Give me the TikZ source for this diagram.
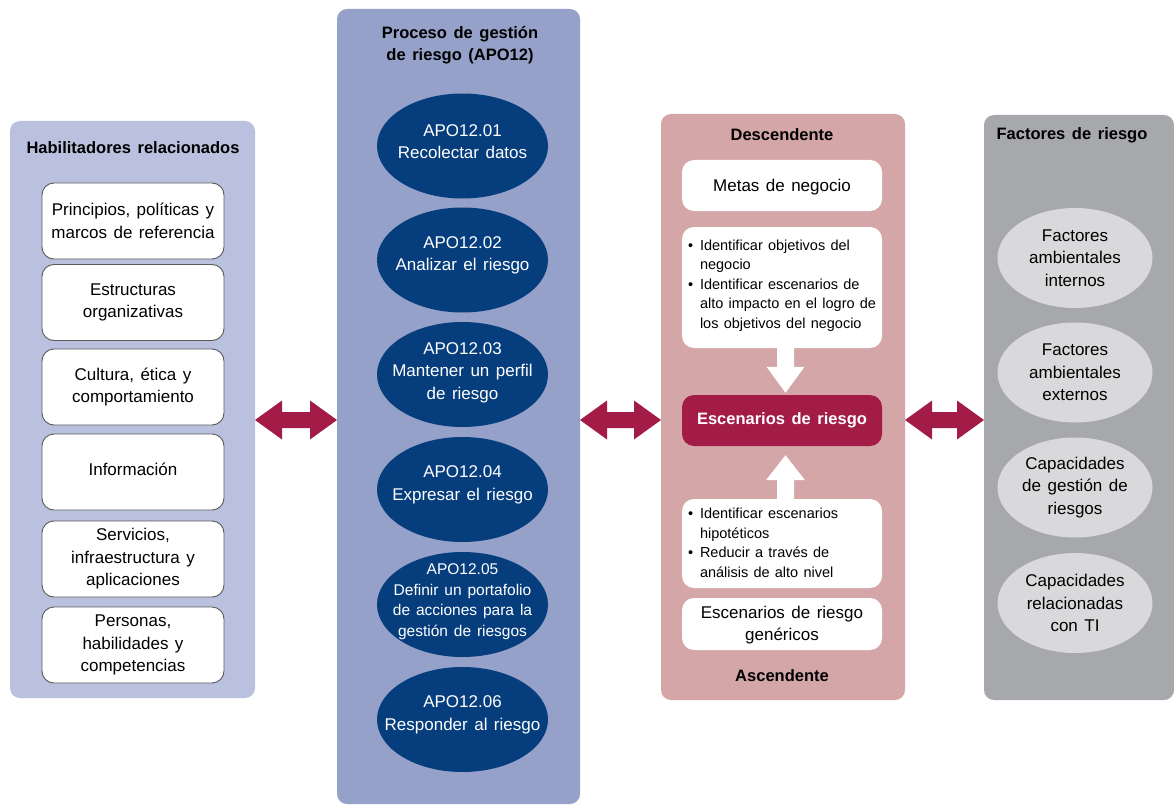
\documentclass[tikz,border=0pt]{standalone}
\usepackage{fontspec}
\setmainfont{Liberation Sans}
\usetikzlibrary{calc,shapes.geometric}
\definecolor{lpanel}{HTML}{B9C1DE}
\definecolor{mpanel}{HTML}{95A1C8}
\definecolor{navy}{HTML}{063E7D}
\definecolor{ppanel}{HTML}{D5A6A8}
\definecolor{crim}{HTML}{A31B47}
\definecolor{gpanel}{HTML}{A7A8AC}
\definecolor{lgray}{HTML}{D9D9DB}
\definecolor{bord}{HTML}{5A5A5A}
\newcommand\bodyf{\fontsize{17}{22.5}\selectfont\spaceskip=0.38em plus 0.1em}
\newcommand\smallf{\fontsize{15.5}{20.5}\selectfont\spaceskip=0.38em plus 0.1em}
\newcommand\bulf{\fontsize{14.5}{19.5}\selectfont\spaceskip=0.36em plus 0.1em}
\newcommand\titf{\fontsize{16.5}{22}\selectfont\bfseries\spaceskip=0.4em plus 0.1em}
\newcommand\bitem{\makebox[12pt][l]{\textbullet}}
\newcommand\bcont{\hspace*{12pt}}
\tikzset{
  panel/.style={rounded corners=10pt, inner sep=0pt, outer sep=0pt, anchor=north west},
  enab/.style={draw=bord, line width=0.9pt, fill=white, rounded corners=12pt, minimum width=182, minimum height=76, inner sep=0pt, align=center, font=\bodyf, text=black},
  apo/.style={ellipse, fill=navy, minimum width=171, minimum height=105, inner sep=0pt},
  apotext/.style={align=center, font=\bodyf, text=white, inner sep=0pt},
  fac/.style={ellipse, fill=lgray, minimum width=155, minimum height=100, inner sep=0pt},
  factext/.style={align=center, font=\bodyf, text=black, inner sep=0pt},
  pbox/.style={fill=white, rounded corners=12pt, minimum width=200, inner sep=0pt, align=center, font=\bodyf},
  titl/.style={font=\titf, align=center, inner sep=0pt},
  arr/.style={fill=crim},
  warr/.style={fill=white}
}
\newcommand\dblarr[2]{%
 \fill[arr] (#1) -- ++(27,-19.5) -- ++(0,11.5) -- ($(#2)+(-27,-8)$) -- ++(0,-11.5) -- (#2) -- ++(-27,19.5) -- ++(0,-11.5) -- ($(#1)+(27,8)$) -- ++(0,11.5) -- cycle;}
\begin{document}
\begin{tikzpicture}[x=1pt,y=-1pt]
\useasboundingbox (0,0) rectangle (1174,805);
% panels
\node[panel, fill=lpanel, minimum width=245, minimum height=577] (left) at (10,121) {};
\node[panel, fill=mpanel, minimum width=243, minimum height=795] (mid) at (337,9) {};
\node[panel, fill=ppanel, minimum width=244, minimum height=586] (pink) at (661,114) {};
\node[panel, fill=gpanel, minimum width=190, minimum height=585] (gray) at (984,115) {};
% titles
\node[titl] (tleft) at (133,148) {Habilitadores relacionados};
\node[titl] (tmid) at (460,45) {Proceso de gestión\\de riesgo (APO12)};
\node[titl] (tdesc) at (782,135) {Descendente};
\node[titl] (tasc) at (782,676) {Ascendente};
\node[titl] (tfac) at (1072,135) {Factores de riesgo};
% enablers
\node[enab] (e1) at (133,221) {Principios, políticas y\\marcos de referencia};
\node[enab] (e2) at (133,302.5) {Estructuras\\organizativas};
\node[enab] (e3) at (133,387) {Cultura, ética y\\comportamiento};
\node[enab] (e4) at (133,472) {};
\node[enab, draw=none, fill=none] (e4t) at (133,469) {Información};
\node[enab] (e5) at (133,559) {Servicios,\\infraestructura y\\aplicaciones};
\node[enab] (e6) at (133,645) {Personas,\\habilidades y\\competencias};
% APO ellipses
\node[apo] (a1) at (462.5,146) {};
\node[apotext] (a1t) at ($(a1)+(0,-4.5)$) {APO12.01\\Recolectar datos};
\node[apo] (a2) at (462.5,260) {};
\node[apotext] (a2t) at ($(a2)+(0,-4.5)$) {APO12.02\\Analizar el riesgo};
\node[apo] (a3) at (462.5,374.5) {};
\node[apotext] (a3t) at ($(a3)+(0,-2)$) {APO12.03\\Mantener un perfil\\de riesgo};
\node[apo] (a4) at (462.5,489.5) {};
\node[apotext] (a4t) at ($(a4)+(0,-4.5)$) {APO12.04\\Expresar el riesgo};
\node[apo] (a5) at (462.5,604.5) {};
\node[apotext, font=\smallf] (a5t) at ($(a5)+(0,-3)$) {APO12.05\\Definir un portafolio\\de acciones para la\\gestión de riesgos};
\node[apo] (a6) at (462.5,719.5) {};
\node[apotext] (a6t) at ($(a6)+(0,-4.5)$) {APO12.06\\Responder al riesgo};
% pink column
\node[pbox, minimum height=51] (metas) at (782,185.5) {};
\node[pbox, fill=none] (metast) at (782,187) {Metas de negocio};
\node[pbox, minimum height=121] (bul1) at (782,287.5) {};
\node[anchor=north west, align=left, font=\bulf, inner sep=0pt] (bul1t) at ($(bul1.north west)+(6,12.5)$)
 {\bitem Identificar objetivos del\\\bcont negocio\\\bitem Identificar escenarios de\\\bcont alto impacto en el logro de\\\bcont los objetivos del negocio};
\node[pbox, fill=crim, minimum height=51, text=white, font=\titf] (esc) at (782,420.5) {Escenarios de riesgo};
\node[pbox, minimum height=89] (bul2) at (782,543.5) {};
\node[anchor=north west, align=left, font=\bulf, inner sep=0pt] (bul2t) at ($(bul2.north west)+(6,9)$)
 {\bitem Identificar escenarios\\\bcont hipotéticos\\\bitem Reducir a través de\\\bcont análisis de alto nivel};
\node[pbox, minimum height=52] (gen) at (782,624) {};
\node[pbox, fill=none] (gent) at (782,625) {Escenarios de riesgo\\genéricos};
% factors
\node[fac] (f1) at (1075,258) {};
\node[factext] (f1t) at (f1) {Factores\\ambientales\\internos};
\node[fac] (f2) at (1075,372.5) {};
\node[factext] (f2t) at (f2) {Factores\\ambientales\\externos};
\node[fac] (f3) at (1075,487.5) {};
\node[factext] (f3t) at (f3) {Capacidades\\de gestión de\\riesgos};
\node[fac] (f4) at (1075,603) {};
\node[factext] (f4t) at (f4) {Capacidades\\relacionadas\\con TI};
% double arrows
\coordinate (ay) at (0,420);
\coordinate (d1a) at (left.east |- ay);
\coordinate (d1b) at (mid.west |- ay);
\coordinate (d2a) at (mid.east |- ay);
\coordinate (d2b) at (pink.west |- ay);
\coordinate (d3a) at (pink.east |- ay);
\coordinate (d3b) at (gray.west |- ay);
\dblarr{d1a}{d1b}
\dblarr{d2a}{d2b}
\dblarr{d3a}{d3b}
% vertical arrows
\coordinate (vx) at (785.5,0);
\coordinate (dtail) at (bul1.south -| vx);
\coordinate (dtip) at ($(esc.north -| vx)+(0,-2)$);
\fill[warr] ($(dtail)+(-8.5,0)$) -- ($(dtip)+(-8.5,-26)$) -- ($(dtip)+(-19,-26)$) -- (dtip) -- ($(dtip)+(19,-26)$) -- ($(dtip)+(8.5,-26)$) -- ($(dtail)+(8.5,0)$) -- cycle;
\coordinate (utail) at (bul2.north -| vx);
\coordinate (utip) at ($(esc.south -| vx)+(0,9)$);
\fill[warr] ($(utail)+(-8.5,0)$) -- ($(utip)+(-8.5,25)$) -- ($(utip)+(-19.5,25)$) -- (utip) -- ($(utip)+(19.5,25)$) -- ($(utip)+(8.5,25)$) -- ($(utail)+(8.5,0)$) -- cycle;
\end{tikzpicture}
\end{document}
